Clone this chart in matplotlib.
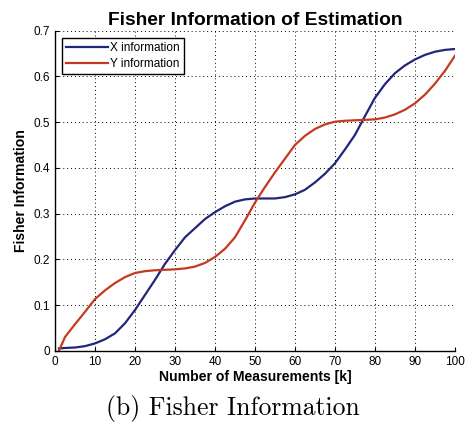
import numpy as np
import matplotlib.pyplot as plt

# Fisher information per axis versus number of measurements
k = [1, 2.5, 5, 7.5, 10, 12.5, 15, 17.5, 20, 22.5, 25, 27.5, 30, 32.5, 35, 37.5, 40,
     42.5, 45, 47.5, 50, 52.5, 55, 57.5, 60, 62.5, 65, 67.5, 70, 72.5, 75, 77.5, 80,
     82.5, 85, 87.5, 90, 92.5, 95, 97.5, 100]
x_info = [0.005, 0.006, 0.007, 0.010, 0.016, 0.025, 0.038, 0.060, 0.089, 0.122, 0.155,
          0.190, 0.220, 0.248, 0.268, 0.288, 0.303, 0.316, 0.326, 0.331, 0.333, 0.333,
          0.333, 0.336, 0.342, 0.352, 0.368, 0.387, 0.410, 0.440, 0.472, 0.513, 0.553,
          0.583, 0.607, 0.624, 0.637, 0.647, 0.654, 0.658, 0.660]
y_info = [0.0, 0.030, 0.058, 0.085, 0.113, 0.132, 0.148, 0.161, 0.170, 0.174, 0.176,
          0.177, 0.178, 0.180, 0.184, 0.192, 0.205, 0.223, 0.248, 0.285, 0.324, 0.358,
          0.390, 0.420, 0.450, 0.470, 0.485, 0.495, 0.501, 0.503, 0.504, 0.505, 0.506,
          0.510, 0.517, 0.527, 0.541, 0.560, 0.584, 0.612, 0.645]

x_ticks = np.arange(0, 101, 10)
y_ticks = np.arange(0, 0.71, 0.1)

plt.rcParams['font.family'] = ['Liberation Sans', 'DejaVu Sans']

fig = plt.figure(figsize=(4.65, 4.36), dpi=100)
ax = fig.add_axes([0.1183, 0.1956, 0.860, 0.734])

ax.plot(k, x_info, color='#22267a', lw=1.6, label='X information')
ax.plot(k, y_info, color='#c53a1f', lw=1.6, label='Y information')

ax.set_xlim(0, 100)
ax.set_ylim(0, 0.7)
ax.set_xticks(x_ticks)
ax.set_yticks(y_ticks)
ax.set_yticklabels(['0'] + ['%.1f' % v for v in y_ticks[1:]])
ax.tick_params(direction='in', length=3, labelsize=8.5, top=False, right=False)
ax.grid(True, color='black', linestyle=(0, (1, 3)), linewidth=0.7)
ax.spines['top'].set_visible(False)
ax.spines['right'].set_visible(False)
for s in ('left', 'bottom'):
    ax.spines[s].set_linewidth(1.0)

ax.set_title('Fisher Information of Estimation', fontsize=13.8, fontweight='bold', pad=4)
ax.set_xlabel('Number of Measurements [k]', fontsize=10.1, fontweight='bold', labelpad=2)
ax.set_ylabel('Fisher Information', fontsize=10.1, fontweight='bold', labelpad=4)

leg = ax.legend(loc='upper left', fontsize=8.5, fancybox=False, framealpha=1,
                edgecolor='black', handlelength=3.5, handletextpad=0.2,
                borderpad=0.35, labelspacing=0.35, borderaxespad=0.6)
leg.get_frame().set_linewidth(1.0)

fig.text(0.5, 0.064, '(b) Fisher Information', fontname='cmr10', fontsize=18.5,
         ha='center', va='center')

fig.savefig('out.png', dpi=100)
